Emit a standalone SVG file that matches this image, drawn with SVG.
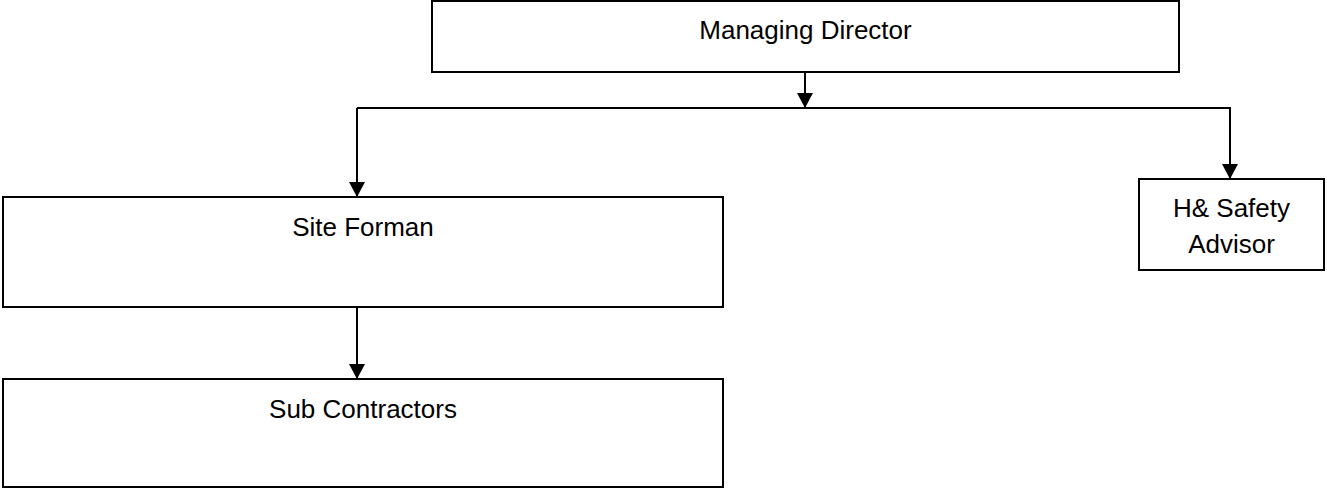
<svg xmlns="http://www.w3.org/2000/svg" width="1327" height="488" viewBox="0 0 1327 488">
<style>
.box{fill:#fff;stroke:#000;stroke-width:2}
.lbl{font-family:"Liberation Sans",Arial,sans-serif;font-size:26px;fill:#000;text-anchor:middle}
.ln{fill:none;stroke:#000;stroke-width:2}
</style>
<defs>
<marker id="ah" markerUnits="userSpaceOnUse" markerWidth="16" markerHeight="16" viewBox="0 0 15 16" refX="15" refY="8" orient="auto">
<path d="M0,0 L15,8 L0,16 Z" fill="#000"/>
</marker>
</defs>
<g id="connectors">
<line class="ln" x1="805" y1="72" x2="805" y2="108" marker-end="url(#ah)"/>
<line class="ln" x1="357" y1="108" x2="1231" y2="108"/>
<line class="ln" x1="357" y1="108" x2="357" y2="197" marker-end="url(#ah)"/>
<line class="ln" x1="1230" y1="108" x2="1230" y2="179" marker-end="url(#ah)"/>
<line class="ln" x1="357" y1="307" x2="357" y2="379" marker-end="url(#ah)"/>
</g>
<g id="managing-director">
<rect class="box" x="432" y="1" width="747" height="71"/>
<text class="lbl" x="805.5" y="39">Managing Director</text>
</g>
<g id="site-forman">
<rect class="box" x="3" y="197" width="720" height="110"/>
<text class="lbl" x="363" y="236">Site Forman</text>
</g>
<g id="sub-contractors">
<rect class="box" x="3" y="379" width="720" height="108"/>
<text class="lbl" x="363" y="418">Sub Contractors</text>
</g>
<g id="hs-advisor">
<rect class="box" x="1139" y="179" width="185" height="91"/>
<text class="lbl" x="1231.5" y="217">H&amp; Safety</text>
<text class="lbl" x="1231.5" y="253">Advisor</text>
</g>
</svg>
